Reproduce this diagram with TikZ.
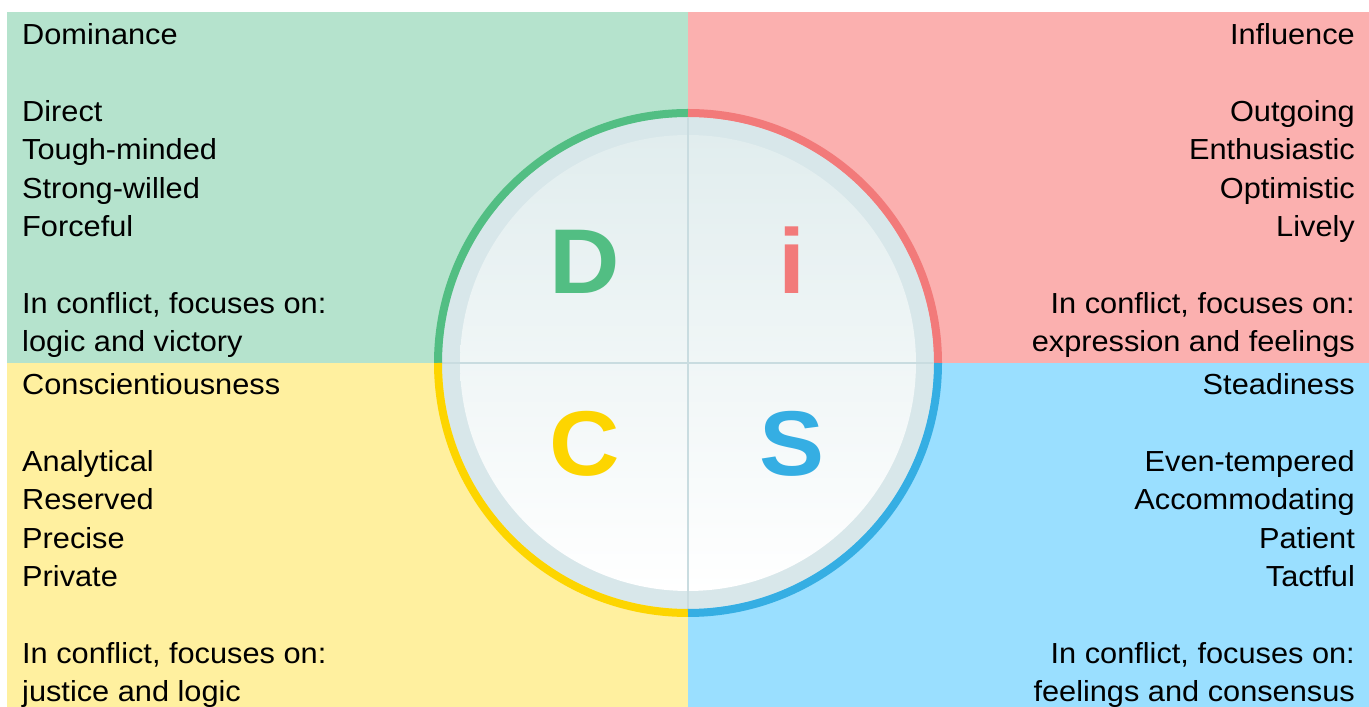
\documentclass[tikz,border=0pt]{standalone}
\usepackage{fontspec}
\setmainfont{Liberation Sans}[FakeStretch=1.06]
\begin{document}
\begin{tikzpicture}[x=1pt, y=1pt,
  trait/.style={font=\fontsize{29}{35}\selectfont, inner sep=0pt},
  letter/.style={font=\fontsize{92}{92}\selectfont\bfseries, inner sep=0pt, anchor=base}]
  \definecolor{dgreen}{HTML}{52BE83}
  \definecolor{dred}{HTML}{F27A7A}
  \definecolor{dyellow}{HTML}{FDD500}
  \definecolor{dblue}{HTML}{35AEE3}
  \definecolor{bggreen}{HTML}{B5E3CD}
  \definecolor{bgred}{HTML}{FBB0AF}
  \definecolor{bgyellow}{HTML}{FFF09F}
  \definecolor{bgblue}{HTML}{9ADFFF}
  \definecolor{ringgrey}{HTML}{D8E7EA}
  \definecolor{disctop}{HTML}{E1EDEE}
  \definecolor{divider}{HTML}{C9DCE0}
  \useasboundingbox (0,0) rectangle (1369,707);
  \fill[white] (0,0) rectangle (1369,707);
  % quadrants
  \fill[bggreen] (7,344) rectangle (688,695);
  \fill[bgred] (688,344) rectangle (1369,695);
  \fill[bgyellow] (7,0) rectangle (688,344);
  \fill[bgblue] (688,0) rectangle (1369,344);
  % disc
  \coordinate (c) at (688,344);
  \fill[ringgrey] (c) circle (246);
  \shade[top color=disctop, bottom color=white] (c) circle (228);
  \draw[line width=1.3pt, divider] (442,344) -- (934,344);
  \draw[line width=1.3pt, divider] (688,98) -- (688,590);
  \foreach \a/\c in {90/dgreen, 0/dred, 180/dyellow, 270/dblue}
    \draw[line width=8pt, \c] (c) ++(\a:250) arc (\a:\a+90:250);
  \node[letter, dgreen] (D) at (585,413) {D};
  \node[letter, dred] (i) at (792,413) {i};
  \node[letter, dyellow] (C) at (585,231) {C};
  \node[letter, dblue] (S) at (792,231) {S};
  % texts
  \foreach \k/\t in {0/Dominance, 2/Direct, 3/Tough-minded, 4/Strong-willed, 5/Forceful, 7/{In conflict, focuses on:}, 8/logic and victory}
    \node[trait, anchor=base west] (dom\k) at (22,{662-38.3*\k}) {\t};
  \foreach \k/\t in {0/Influence, 2/Outgoing, 3/Enthusiastic, 4/Optimistic, 5/Lively, 7/{In conflict, focuses on:}, 8/expression and feelings}
    \node[trait, anchor=base east] (inf\k) at (1355,{662-38.3*\k}) {\t};
  \foreach \k/\t in {0/Conscientiousness, 2/Analytical, 3/Reserved, 4/Precise, 5/Private, 7/{In conflict, focuses on:}, 8/justice and logic}
    \node[trait, anchor=base west] (con\k) at (22,{312-38.3*\k}) {\t};
  \foreach \k/\t in {0/Steadiness, 2/Even-tempered, 3/Accommodating, 4/Patient, 5/Tactful, 7/{In conflict, focuses on:}, 8/feelings and consensus}
    \node[trait, anchor=base east] (ste\k) at (1355,{312-38.3*\k}) {\t};
\end{tikzpicture}
\end{document}
